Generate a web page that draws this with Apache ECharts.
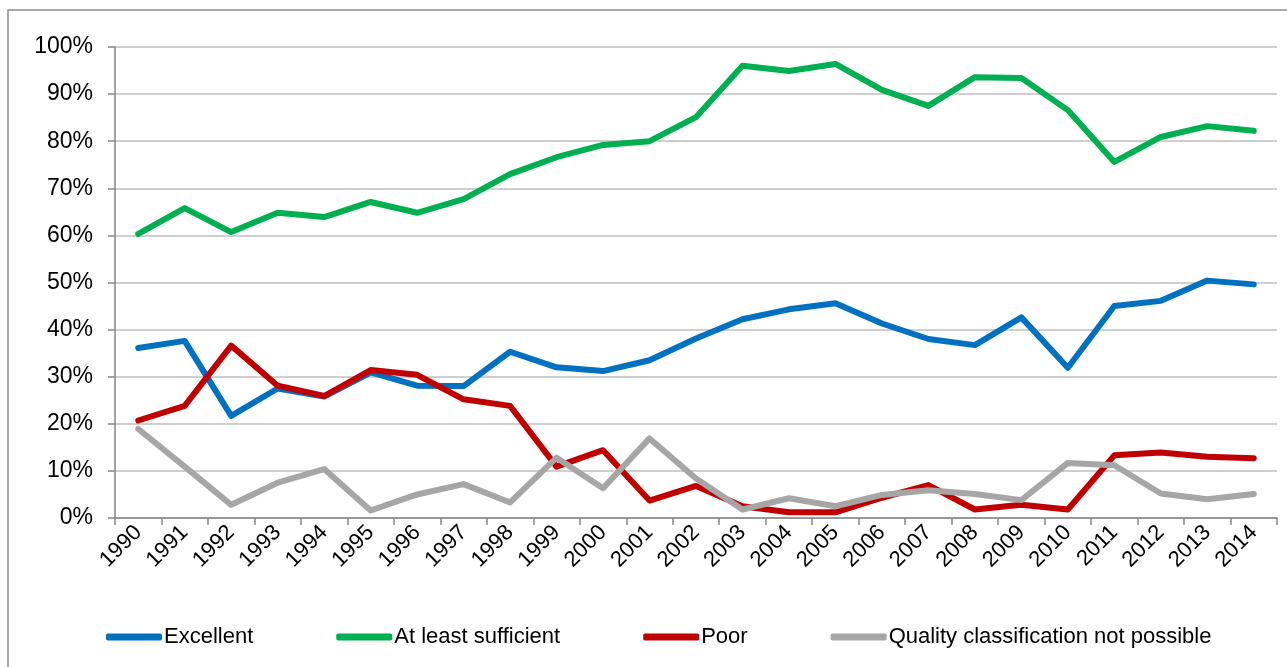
<!DOCTYPE html>
<html>
<head>
<meta charset="utf-8">
<script src="https://cdn.jsdelivr.net/npm/echarts@6/dist/echarts.min.js"></script>
<style>
html,body{margin:0;padding:0;background:#fff;}
#c{width:1287px;height:667px;}
</style>
</head>
<body>
<div id="c"></div>
<script>
const years = ['1990','1991','1992','1993','1994','1995','1996','1997','1998','1999','2000','2001','2002','2003','2004','2005','2006','2007','2008','2009','2010','2011','2012','2013','2014'];
const excellent = [36.1,37.6,21.7,27.5,25.8,30.9,28.1,28.0,35.3,32.0,31.2,33.5,38.1,42.2,44.3,45.6,41.3,38.0,36.7,42.6,31.9,45.0,46.1,50.4,49.6];
const sufficient = [60.3,65.8,60.7,64.8,63.9,67.1,64.8,67.7,73.0,76.6,79.2,80.0,85.1,96.0,94.9,96.4,90.9,87.5,93.6,93.4,86.6,75.6,80.9,83.2,82.2];
const poor = [20.7,23.8,36.6,28.1,25.9,31.4,30.4,25.2,23.8,10.9,14.4,3.7,6.8,2.5,1.2,1.2,4.3,7.0,1.8,2.8,1.8,13.3,13.9,13.0,12.7];
const notPossible = [18.9,10.9,2.8,7.5,10.4,1.6,5.0,7.2,3.3,12.8,6.3,16.9,8.4,1.8,4.2,2.5,4.9,5.9,5.1,3.8,11.7,11.2,5.2,4.0,5.1];
const seriesNames = ['Excellent','At least sufficient','Poor','Quality classification not possible'];
const colors = ['#0070C0','#00B050','#C00000','#A6A6A6'];

const font = 'Liberation Sans, Arial, sans-serif';
const chart = echarts.init(document.getElementById('c'), null, {renderer:'canvas'});
const mk = (name, data, color) => ({
  name, type:'line', data, symbol:'none', smooth:false,
  lineStyle:{color, width:6, cap:'round', join:'round'},
  itemStyle:{color}
});
chart.setOption({
  animation:false,
  backgroundColor:'#fff',
  graphic:[{type:'rect', shape:{x:8, y:10, width:1300, height:700}, style:{fill:'none', stroke:'#8c8c8c', lineWidth:1.5}, silent:true}],
  grid:{left:115, right:10, top:47, bottom:149, containLabel:false},
  legend:{
    bottom:14, left:101, itemWidth:56, itemHeight:7, itemGap:83,
    icon:'roundRect',
    textStyle:{fontFamily:font, fontSize:22, color:'#000', padding:[0,0,0,-3]},
    data:seriesNames
  },
  xAxis:{
    type:'category', data:years, boundaryGap:true,
    axisLine:{lineStyle:{color:'#868686', width:1.5}},
    axisTick:{show:true, alignWithLabel:false, length:7, lineStyle:{color:'#868686', width:1.5}},
    axisLabel:{interval:0, rotate:45, fontFamily:font, fontSize:22, color:'#000', margin:11}
  },
  yAxis:{
    type:'value', min:0, max:100, interval:10,
    axisLine:{show:true, lineStyle:{color:'#868686', width:1.5}},
    axisTick:{show:true, inside:false, length:7, lineStyle:{color:'#868686', width:1.5}},
    splitLine:{lineStyle:{color:'#BFBFBF', width:1.5}},
    axisLabel:{formatter:'{value}%', fontFamily:font, fontSize:23, color:'#000', margin:22}
  },
  series:[
    mk(seriesNames[0], excellent, colors[0]),
    mk(seriesNames[1], sufficient, colors[1]),
    mk(seriesNames[2], poor, colors[2]),
    mk(seriesNames[3], notPossible, colors[3])
  ]
});
</script>
</body>
</html>
